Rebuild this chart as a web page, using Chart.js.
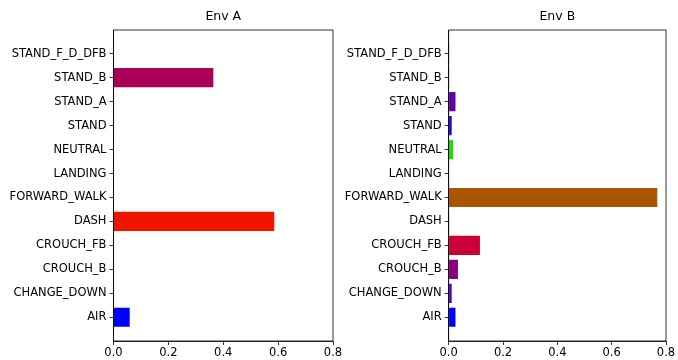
<!DOCTYPE html>
<html>
<head>
<meta charset="utf-8">
<script src="https://cdn.jsdelivr.net/npm/chart.js@4/dist/chart.umd.min.js"></script>
<style>
html,body{margin:0;padding:0;background:#fff;}
#wrap{position:relative;width:678px;height:360px;}
.box{position:absolute;top:0;height:360px;}
</style>
</head>
<body>
<div id="wrap">
  <div class="box" style="left:0;width:345px;"><canvas id="cA"></canvas></div>
  <div class="box" style="left:345px;width:333px;"><canvas id="cB"></canvas></div>
</div>
<script>
// categories from bottom (index 0) to top
const categories = ["AIR","CHANGE_DOWN","CROUCH_B","CROUCH_FB","DASH","FORWARD_WALK","LANDING","NEUTRAL","STAND","STAND_A","STAND_B","STAND_F_D_DFB"];
const envAValues = [0.059, 0.002, 0.002, 0.002, 0.586, 0.001, 0.001, 0.002, 0.002, 0.002, 0.364, 0.002];
const envBValues = [0.025, 0.011, 0.034, 0.115, 0.001, 0.768, 0.0, 0.016, 0.011, 0.025, 0.001, 0.001];
const categoryColors = ["#0000ff","#5000c8","#880080","#cc0038","#f01400","#aa5500","#888800","#22dd00","#2200e0","#6600a8","#aa0058","#e00050"];
const xTicks = [0, 0.2, 0.4, 0.6, 0.8];
const titles = ["Env A", "Env B"];

const FONT = "'DejaVu Sans', sans-serif";

const framePlugin = {
  id: 'frame',
  afterDatasetsDraw(chart) {
    const a = chart.chartArea, ctx = chart.ctx;
    ctx.save();
    ctx.strokeStyle = '#000';
    ctx.lineWidth = 0.8;
    ctx.strokeRect(a.left, a.top, a.right - a.left, a.bottom - a.top);
    ctx.restore();
  }
};

function makeChart(id, values, title, yWidth) {
  return new Chart(document.getElementById(id), {
    type: 'bar',
    data: {
      datasets: [{
        data: categories.map((c, i) => ({ x: values[i], y: i })),
        backgroundColor: categoryColors,
        borderWidth: 0,
        barPercentage: 0.8,
        categoryPercentage: 1.0
      }]
    },
    options: {
      indexAxis: 'y',
      responsive: true,
      maintainAspectRatio: false,
      animation: false,
      devicePixelRatio: 1,
      layout: { padding: { left: 0, right: 12, top: 0, bottom: 0 } },
      plugins: {
        legend: { display: false },
        tooltip: { enabled: false },
        title: {
          display: true,
          fullSize: false,
          text: title,
          color: '#000',
          font: { family: FONT, size: 12.5, weight: 'normal', lineHeight: 1.2 },
          padding: { top: 9, bottom: 6 }
        }
      },
      scales: {
        x: {
          type: 'linear',
          min: 0, max: 0.8,
          afterBuildTicks(s) { s.ticks = xTicks.map(v => ({ value: v })); },
          afterFit(s) { s.height = 19; },
          ticks: {
            color: '#000',
            font: { family: FONT, size: 11.5 },
            padding: 1,
            maxRotation: 0,
            autoSkip: false,
            callback: v => Number(v).toFixed(1)
          },
          grid: { drawOnChartArea: false, drawTicks: true, tickLength: 4, color: '#000', lineWidth: 0.8 },
          border: { display: true, color: '#000', width: 0.8 }
        },
        y: {
          type: 'linear',
          offset: false,
          min: -0.99, max: 11.99,
          afterBuildTicks(s) { s.ticks = categories.map((c, i) => ({ value: i })); },
          afterFit(s) { s.width = yWidth; },
          ticks: {
            color: '#000',
            font: { family: FONT, size: 11.5 },
            padding: 3,
            autoSkip: false,
            callback: v => categories[v]
          },
          grid: { offset: false, drawOnChartArea: false, drawTicks: true, tickLength: 4, color: '#000', lineWidth: 0.8 },
          border: { display: true, color: '#000', width: 0.8 }
        }
      }
    },
    plugins: [framePlugin]
  });
}

makeChart('cA', envAValues, titles[0], 113.5);
makeChart('cB', envBValues, titles[1], 103.7);
</script>
</body>
</html>
